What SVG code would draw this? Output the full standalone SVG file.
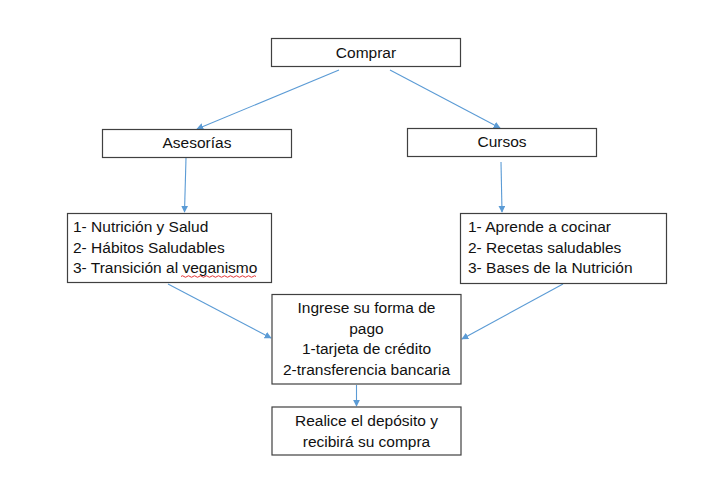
<svg xmlns="http://www.w3.org/2000/svg" width="724" height="479" viewBox="0 0 724 479">
<style>
.box{fill:#fff;stroke:#404040;stroke-width:1.2}
.t{font-family:"Liberation Sans",Arial,sans-serif;font-size:15.5px;fill:#111}
.c{text-anchor:middle}
.con{stroke:#5B9BD5;stroke-width:1.1;fill:none;marker-end:url(#ah)}
</style>
<defs>
<marker id="ah" viewBox="0 0 10 10" refX="9" refY="5" markerWidth="7" markerHeight="7" markerUnits="userSpaceOnUse" orient="auto">
<path d="M0,0 L10,5 L0,10 z" fill="#5B9BD5"/>
</marker>
</defs>
<rect width="724" height="479" fill="#fff"/>
<g id="connectors">
<line class="con" x1="339" y1="70" x2="197" y2="129"/>
<line class="con" x1="390" y1="70" x2="500" y2="128"/>
<line class="con" x1="186" y1="158" x2="184.5" y2="212"/>
<line class="con" x1="501" y1="162" x2="502" y2="212"/>
<line class="con" x1="168" y1="284" x2="271" y2="338"/>
<line class="con" x1="563" y1="284" x2="462" y2="339"/>
<line class="con" x1="356.5" y1="385" x2="356.5" y2="406"/>
</g>
<g id="comprar">
<rect class="box" x="271.5" y="38.5" width="189" height="28"/>
<text class="t c" x="366" y="58">Comprar</text>
</g>
<g id="asesorias">
<rect class="box" x="102.5" y="129.5" width="189" height="28"/>
<text class="t c" x="197" y="148">Asesorías</text>
</g>
<g id="cursos">
<rect class="box" x="407.5" y="128.5" width="189" height="28"/>
<text class="t c" x="502" y="147">Cursos</text>
</g>
<g id="lista-asesorias">
<rect class="box" x="67.5" y="213.5" width="204" height="69"/>
<text class="t" x="73" y="232">1- Nutrición y Salud</text>
<text class="t" x="73" y="252.5">2- Hábitos Saludables</text>
<text class="t" x="73" y="273">3- Transición al veganismo</text>
<path d="M181,276.5 q1.5,-1.5 3,0 t3,0 t3,0 t3,0 t3,0 t3,0 t3,0 t3,0 t3,0 t3,0 t3,0 t3,0 t3,0 t3,0 t3,0 t3,0 t3,0 t3,0 t3,0 t3,0 t3,0 t3,0 t3,0 t3,0 t3,0" fill="none" stroke="#e02020" stroke-width="0.9"/>
</g>
<g id="lista-cursos">
<rect class="box" x="460.5" y="213.5" width="206" height="70"/>
<text class="t" x="468" y="232">1- Aprende a cocinar</text>
<text class="t" x="468" y="252.5">2- Recetas saludables</text>
<text class="t" x="468" y="273">3- Bases de la Nutrición</text>
</g>
<g id="pago">
<rect class="box" x="272" y="294.5" width="189" height="89.5"/>
<text class="t c" x="366.5" y="313">Ingrese su forma de</text>
<text class="t c" x="366.5" y="333.5">pago</text>
<text class="t c" x="366.5" y="354">1-tarjeta de crédito</text>
<text class="t c" x="366.5" y="374.5">2-transferencia bancaria</text>
</g>
<g id="deposito">
<rect class="box" x="272" y="407" width="189" height="48"/>
<text class="t c" x="366.5" y="425.5">Realice el depósito y</text>
<text class="t c" x="366.5" y="446.5">recibirá su compra</text>
</g>
</svg>
